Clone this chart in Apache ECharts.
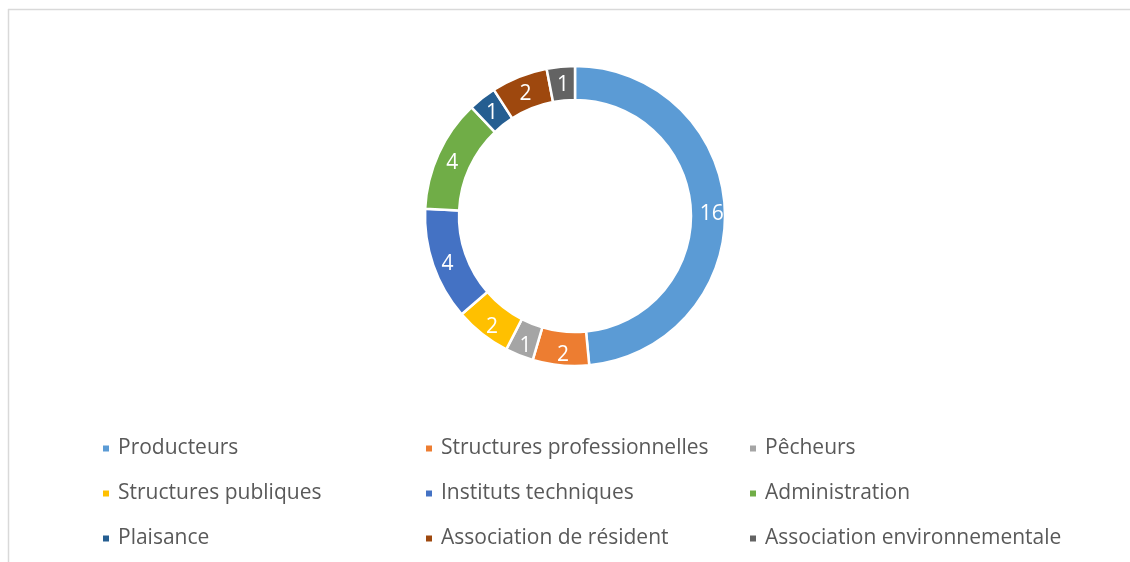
<!DOCTYPE html>
<html>
<head>
<meta charset="utf-8">
<script src="https://cdn.jsdelivr.net/npm/echarts@6/dist/echarts.min.js"></script>
<style>
html,body{margin:0;padding:0;background:#fff;}
#chart{width:1130px;height:562px;}
</style>
</head>
<body>
<div id="chart"></div>
<script>
const categories = ["Producteurs","Structures professionnelles","Pêcheurs","Structures publiques","Instituts techniques","Administration","Plaisance","Association de résident","Association environnementale"];
const values = [16,2,1,2,4,4,1,2,1];
const colors = ["#5B9BD5","#ED7D31","#A5A5A5","#FFC000","#4472C4","#70AD47","#255E91","#9E480E","#636363"];
const legendColumns = [
  ["Producteurs","Structures publiques","Plaisance"],
  ["Structures professionnelles","Instituts techniques","Association de résident"],
  ["Pêcheurs","Administration","Association environnementale"]
];
const FONT = "'Open Sans', Lato, sans-serif";
const colLeft = [101, 424, 748];

const chart = echarts.init(document.getElementById('chart'), null, {renderer:'canvas'});
const legends = legendColumns.map((col, i) => ({
  orient: 'vertical',
  left: colLeft[i],
  top: 438,
  data: col,
  icon: 'rect',
  itemWidth: 8,
  itemHeight: 8,
  itemGap: 24,
  padding: 0,
  selectedMode: false,
  textStyle: {fontFamily: FONT, fontSize: 21, color: '#595959', lineHeight: 20, padding: [0,0,0,3]}
}));

chart.setOption({
  animation: false,
  color: colors,
  graphic: [
    {type:'line', shape:{x1:8, y1:9.5, x2:1130, y2:9.5}, style:{stroke:'#d9d9d9', lineWidth:1.5}},
    {type:'line', shape:{x1:8.5, y1:9, x2:8.5, y2:562}, style:{stroke:'#d9d9d9', lineWidth:1.5}}
  ],
  legend: legends,
  series: [{
    type: 'pie',
    center: [575, 216],
    radius: [116, 150],
    startAngle: 90,
    clockwise: true,
    avoidLabelOverlap: false,
    itemStyle: {borderColor: '#fff', borderWidth: 2.5},
    label: {show: true, position: 'inside', formatter: '{c}', color: '#fff', fontFamily: FONT, fontSize: 21, offset: [1, 4]},
    labelLine: {show: false},
    emphasis: {disabled: true},
    data: categories.map((c, i) => ({name: c, value: values[i]}))
  }]
});
</script>
</body>
</html>
